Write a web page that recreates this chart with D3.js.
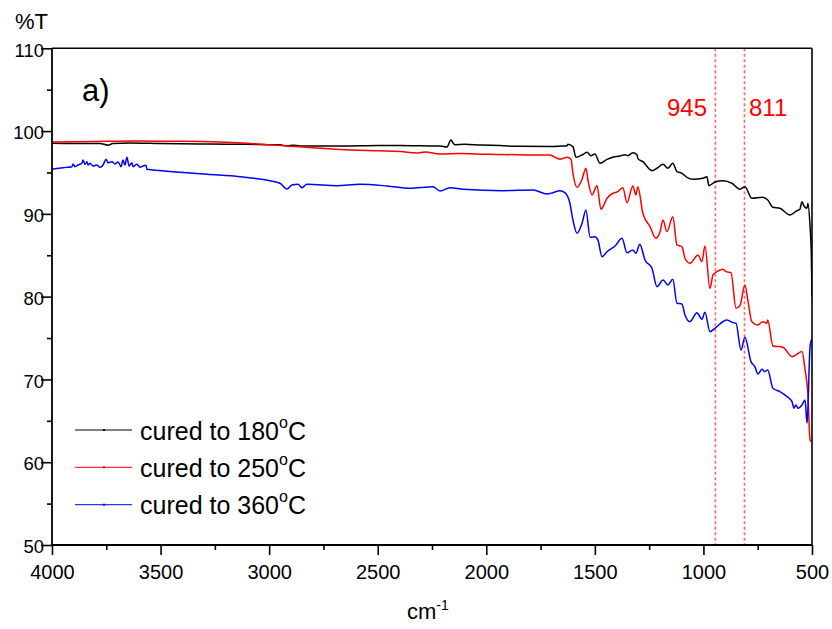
<!DOCTYPE html>
<html><head><meta charset="utf-8">
<script src="https://cdn.jsdelivr.net/npm/d3@7"></script>
<style>body{margin:0;background:#fff}svg{display:block}text{font-family:"Liberation Sans",Arial,sans-serif}</style>
</head><body>
<svg id="c" width="832" height="629"></svg>
<script>
const xTicks = [4000,3500,3000,2500,2000,1500,1000,500];
const xMinor = [3750,3250,2750,2250,1750,1250,750];
const yTicks = [50,60,70,80,90,100,110];
const yMinor = [55,65,75,85,95,105];
const seriesNames = ["cured to 180", "cured to 250", "cured to 360"];
const seriesColors = ["#000000", "#ff0000", "#0000ff"];
const markers = [945, 811];

const black180 = [[4000,98.53],[3900,98.5],[3779,98.5],[3742,98.3],[3720,98.5],[3641,98.56],[3500,98.5],[3318,98.44],[3100,98.4],[2950,98.35],[2918,98.2],[2890,98.3],[2858,98.2],[2674,98.2],[2500,98.25],[2397,98.26],[2300,98.22],[2213,98.2],[2181,98.08],[2163,98.92],[2150,98.45],[2144,98.36],[2100,98.4],[2029,98.32],[1937,98.25],[1845,98.16],[1707,98.14],[1650,98.2],[1628,98.24],[1624,98.41],[1601,98.12],[1587,96.84],[1559,97.11],[1536,97.44],[1518,97.03],[1500,97.23],[1476,96.11],[1444,96.59],[1417,96.84],[1384,96.99],[1361,97.15],[1348,97.03],[1325,97.39],[1306,97.15],[1302,96.67],[1279,96.3],[1237,95.22],[1214,95.51],[1186,95.99],[1164,95.51],[1141,96.11],[1122,95.1],[1099,94.9],[1076,94.42],[1048,94.18],[1002,94.3],[984,94.49],[975,93.41],[947,93.85],[910,94.01],[869,93.7],[832,92.97],[809,93.29],[777,91.88],[726,92.0],[704,91.67],[680,90.8],[648,90.68],[602,89.87],[569,90.39],[556,90.56],[546,91.47],[537,90.95],[523,90.68],[519,91.28],[509,88.45],[503,85],[500,80]];

const red250 = [[4000,98.68],[3800,98.75],[3641,98.8],[3500,98.78],[3318,98.74],[3200,98.65],[3088,98.5],[2918,98.2],[2800,98.0],[2674,97.78],[2500,97.62],[2397,97.54],[2319,97.35],[2282,97.48],[2213,97.23],[2121,97.3],[2000,97.2],[1937,97.17],[1800,97.12],[1707,97.1],[1690,96.91],[1665,96.63],[1661,96.59],[1628,96.84],[1610,96.6],[1601,94.9],[1582,93.21],[1559,94.18],[1541,95.51],[1532,94.09],[1513,92.28],[1490,93.41],[1472,90.56],[1444,91.88],[1417,92.49],[1394,92.68],[1371,93.16],[1352,91.35],[1325,93.37],[1311,92.28],[1302,93.29],[1279,90.07],[1246,88.45],[1219,87.05],[1200,87.85],[1186,89.26],[1168,87.85],[1141,89.66],[1122,86.24],[1099,86.04],[1085,84.64],[1062,84.03],[1025,85.04],[1007,84.23],[993,86.12],[970,81.01],[956,82.62],[940,82.98],[910,83.31],[896,83.02],[873,82.9],[850,78.6],[832,78.9],[809,81.41],[795,79.5],[777,76.98],[749,76.58],[726,76.98],[708,76.78],[704,77.19],[680,74.05],[634,73.89],[592,72.75],[546,73.36],[532,71.15],[519,68.33],[509,62.7],[503,62.5]];

const blue360 = [[4000,95.39],[3949,95.58],[3908,95.7],[3903,96.03],[3894,95.7],[3880,95.9],[3862,96.11],[3857,96.51],[3848,95.98],[3839,96.3],[3834,95.9],[3825,96.11],[3811,95.79],[3793,95.9],[3779,95.63],[3765,95.9],[3751,96.59],[3742,96.18],[3724,96.3],[3710,96.03],[3696,96.27],[3682,95.7],[3673,96.51],[3664,95.9],[3655,96.84],[3645,95.79],[3632,96.18],[3627,95.7],[3609,95.99],[3595,95.63],[3581,95.79],[3567,95.87],[3563,95.39],[3535,95.3],[3443,95.1],[3286,94.78],[3134,94.49],[3042,94.21],[2996,94.01],[2950,93.7],[2918,93.0],[2895,93.49],[2867,93.57],[2849,93.16],[2826,93.57],[2688,93.41],[2582,93.57],[2457,93.37],[2351,93.09],[2246,93.29],[2213,92.77],[2167,93.16],[2107,92.97],[1923,92.8],[1785,92.89],[1720,92.4],[1693,92.56],[1661,92.8],[1638,92.56],[1615,91.28],[1601,89.26],[1582,87.66],[1559,88.86],[1541,90.47],[1522,87.17],[1500,87.24],[1486,86.85],[1467,84.83],[1444,85.43],[1407,86.12],[1375,87.05],[1352,85.31],[1325,85.64],[1311,85.24],[1293,86.33],[1269,84.43],[1237,83.43],[1214,81.21],[1186,82.02],[1164,81.41],[1141,82.1],[1122,79.2],[1099,79.12],[1085,77.79],[1062,76.98],[1030,78.07],[1007,77.27],[993,78.12],[970,75.77],[947,76.18],[892,77.19],[864,76.86],[850,76.79],[827,73.56],[809,75.1],[781,72.15],[763,71.55],[749,70.66],[730,71.23],[717,70.94],[704,71.15],[680,68.94],[648,68.53],[615,67.92],[592,67.32],[583,66.52],[574,66.92],[565,66.52],[546,66.92],[532,67.52],[523,64.71],[519,66.52],[509,73.96],[503,74.8]];

const allSeries = [black180, red250, blue360];

const svg = d3.select("#c");
const L = 52, R = 812, T = 48.3, B = 545;
const x = d3.scaleLinear().domain([4000,500]).range([L,R]);
const y = d3.scaleLinear().domain([50,110]).range([B,T]);

// marker dashed lines
svg.selectAll("line.mk").data(markers).enter().append("line")
  .attr("x1", d=>x(d)).attr("x2", d=>x(d)).attr("y1", T).attr("y2", B)
  .attr("stroke", "#ff6666").attr("stroke-width", 1.6).attr("stroke-dasharray", "3,2.5");

// traces
const line = d3.line().x(d=>x(d[0])).y(d=>y(d[1])).curve(d3.curveMonotoneX);
svg.append("clipPath").attr("id","cp").append("rect").attr("x",L).attr("y",T).attr("width",R-L).attr("height",B-T);
allSeries.forEach((s,i)=>{
  const pts = s.slice().reverse();
  svg.append("path").datum(pts).attr("d", line).attr("fill","none")
    .attr("stroke", seriesColors[i]).attr("stroke-width", 1.5).attr("stroke-linejoin","round")
    .attr("clip-path","url(#cp)");
});

// frame
svg.append("line").attr("x1",L).attr("x2",R).attr("y1",T).attr("y2",T).attr("stroke","#000").attr("stroke-width",1.6);
svg.append("line").attr("x1",R).attr("x2",R).attr("y1",T).attr("y2",B).attr("stroke","#000").attr("stroke-width",1.6);

// axes
const gx = svg.append("g").attr("transform",`translate(0,${B})`)
  .call(d3.axisBottom(x).tickValues(xTicks).tickSize(10).tickFormat(d3.format("d")));
const gxm = svg.append("g").attr("transform",`translate(0,${B})`)
  .call(d3.axisBottom(x).tickValues(xMinor).tickSize(5).tickFormat(""));
const gy = svg.append("g").attr("transform",`translate(${L},0)`)
  .call(d3.axisLeft(y).tickValues(yTicks).tickSize(11).tickFormat(d3.format("d")));
const gym = svg.append("g").attr("transform",`translate(${L},0)`)
  .call(d3.axisLeft(y).tickValues(yMinor).tickSize(5).tickFormat(""));
[gx,gxm,gy,gym].forEach(g=>{
  g.select(".domain").attr("stroke","#000").attr("stroke-width",1.8);
  g.selectAll(".tick line").attr("stroke","#000").attr("stroke-width",1.6);
});
gxm.select(".domain").remove(); gym.select(".domain").remove();
gx.select(".domain").attr("d", `M${L},0H${R}`);
gy.select(".domain").attr("d", `M0,${T}V${B}`);
gx.selectAll(".tick text").attr("font-size",20).attr("fill","#000")
  .attr("font-family","Liberation Sans, Arial, sans-serif").attr("y",20).attr("dy","0.71em");
gy.selectAll(".tick text").attr("font-size",18.5).attr("fill","#000")
  .attr("font-family","Liberation Sans, Arial, sans-serif").attr("x",-8).attr("dy","0.42em");

// axis titles
svg.append("text").attr("x",15).attr("y",29).attr("font-size",22).text("%T");
const xt = svg.append("text").attr("x",407).attr("y",619).attr("font-size",22);
xt.append("tspan").text("cm");
xt.append("tspan").attr("dy",-9).attr("font-size",14).text("-1");

// panel label
svg.append("text").attr("x",82).attr("y",101).attr("font-size",31).text("a)");

// marker labels
svg.append("text").attr("x",707).attr("y",116).attr("text-anchor","end").attr("font-size",24).attr("fill","#ff0000").text(markers[0]);
svg.append("text").attr("x",749).attr("y",116).attr("font-size",24).attr("fill","#ff0000").text(markers[1]);

// legend
const legY = [430, 467.3, 504.7];
seriesNames.forEach((n,i)=>{
  svg.append("line").attr("x1",75).attr("x2",132).attr("y1",legY[i]).attr("y2",legY[i])
    .attr("stroke",seriesColors[i]).attr("stroke-width",1);
  svg.append("rect").attr("x",103).attr("y",legY[i]-1).attr("width",2).attr("height",2).attr("fill",seriesColors[i]);
  const t = svg.append("text").attr("x",140).attr("y",legY[i]+9.5).attr("font-size",25);
  t.append("tspan").text(n);
  t.append("tspan").attr("dy",-12).attr("font-size",16).text("o");
  t.append("tspan").attr("dy",12).text("C");
});
</script>
</body></html>
